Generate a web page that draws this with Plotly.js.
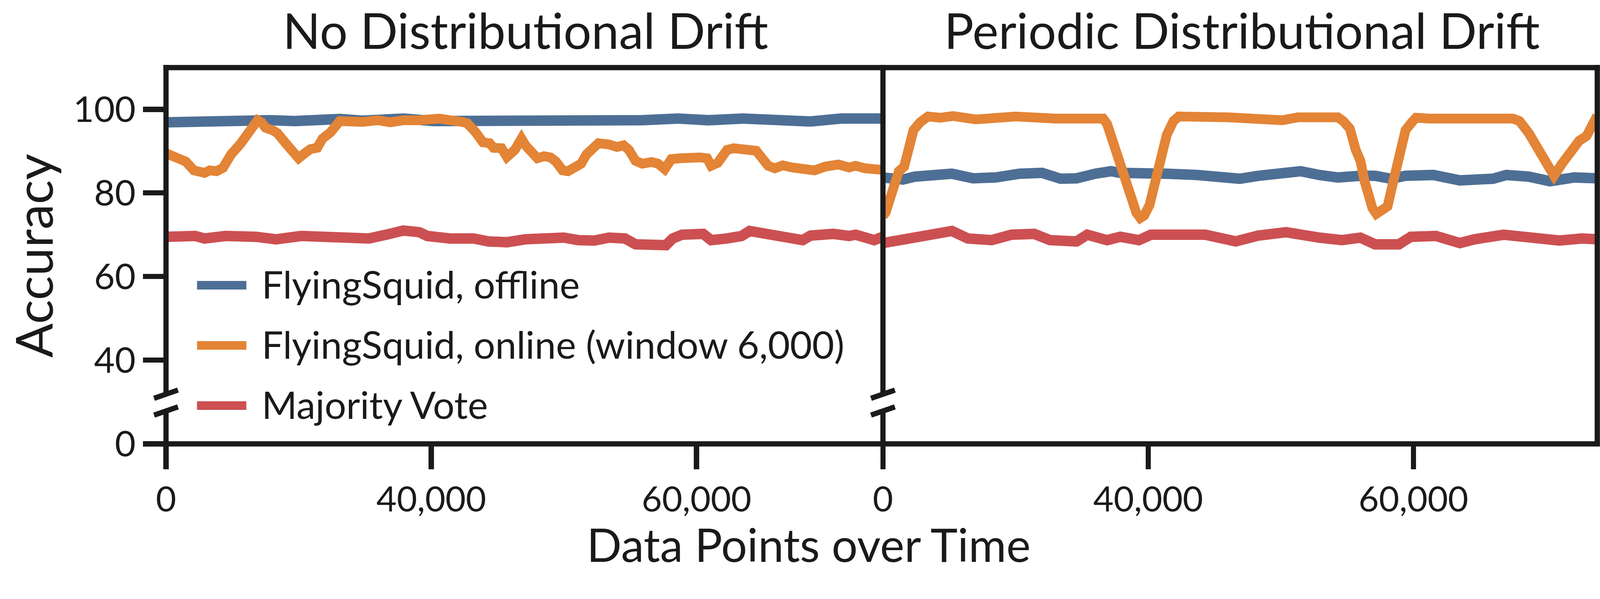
<!DOCTYPE html>
<html><head><meta charset="utf-8">
<script src="https://cdn.plot.ly/plotly-3.0.1.min.js"></script>
<style>html,body{margin:0;padding:0;background:#fff;overflow:hidden;}</style>
</head><body><div id="chart"></div>
<script>
// ---------------- DATA ----------------
const PANEL_TITLES = ["No Distributional Drift", "Periodic Distributional Drift"];
const SERIES_NAMES = ["FlyingSquid, offline", "FlyingSquid, online (window 6,000)", "Majority Vote"];
const X_TITLE = "Data Points over Time";
const Y_TITLE = "Accuracy";
const X_TICK_VALUES = [20000, 40000, 60000];
const X_TICK_LABELS = ["0", "40,000", "60,000"];
const Y_TICK_VALUES = [40, 60, 80, 100];
const Y_LOW_TICK_VALUES = [0];

// Left panel: no drift
const xLeftOffline = [20000,21600,22200,23300,25600,27900,29700,31400,33100,34800,36600,37900,40200,42500,44800,47100,49400,51700,52900,55900,58600,60900,63500,65700,67600,68600,70900,73200,74050];
const yLeftOffline = [96.9,97.0,97.6,97.4,97.8,97.4,97.2,97.5,97.7,97.3,97.6,97.8,97.2,97.15,97.3,97.4,97.6,97.5,97.1,97.4,97.8,97.4,97.8,97.4,97.0,97.1,97.8,98.0,97.8];

const xLeftOnline = [20000,20600,21200,21500,22100,22900,23300,23800,24300,24900,25600,26100,26700,26900,27200,27500,28100,28400,29100,29500,30000,30500,30900,31400,31800,32400,33100,34800,36000,36900,37900,39100,40600,42300,42700,43300,43900,44400,44700,45300,45700,46300,46800,47100,47500,47800,48000,48500,49000,49400,49900,50300,50800,51300,51700,52300,52600,53400,54000,54500,54900,55400,55900,56600,57100,57600,58100,58800,59400,60300,60800,61100,61600,62300,62800,64000,64500,64900,65400,65900,66500,67200,68000,68900,69700,70700,71500,72000,72700,73400,74050];
const yLeftOnline = [89.5,88.5,87.5,87.5,85.4,84.8,85.4,85.2,86.0,89.2,91.7,93.6,96.1,97.4,96.9,95.6,94.9,94.3,91.6,90.3,88.3,89.6,90.5,90.8,93.0,94.5,97.2,97.0,97.4,96.9,97.4,97.4,97.8,97.0,96.7,94.7,92.1,91.9,90.8,90.7,88.6,90.3,93.0,91.4,90.1,89.6,88.3,88.8,88.5,87.5,85.4,85.2,85.9,87.0,89.2,91.0,91.9,91.6,91.0,91.4,90.3,87.7,87.0,87.4,87.0,85.7,88.1,88.3,88.6,88.5,88.3,86.5,87.2,90.3,90.7,90.5,90.1,88.5,86.5,85.9,86.6,86.1,85.5,85.4,86.3,86.8,86.1,86.5,85.9,85.5,85.5];

const xLeftMajority = [20000,22200,22900,24500,26800,28300,30200,31400,33700,35300,36600,37900,39100,39700,41400,43200,44300,45700,47100,48800,50000,51100,52300,53400,54600,55400,55900,56900,57700,58200,58900,60500,61100,62300,63400,64000,65700,67500,68000,68600,70300,71500,72000,73400,74050];
const yLeftMajority = [69.5,69.7,69.1,69.7,69.5,68.9,69.7,69.5,69.3,69.1,70.0,71.0,70.6,69.7,69.1,69.1,68.4,68.2,68.9,69.5,69.3,68.7,68.6,69.3,69.1,67.7,67.7,67.5,67.5,69.1,70.0,70.2,68.7,69.1,69.7,70.9,70.0,69.5,68.7,69.8,70.2,69.7,70.0,68.7,69.5];

// Right panel: periodic drift
const xRightOffline = [20000,21500,22400,23700,25200,26800,28500,30300,32000,33400,34600,36000,37200,37900,39700,41400,43700,46900,48300,50000,51500,52900,54300,56000,57100,58300,59400,61500,63500,66000,67000,68700,70300,72100,73860];
const yRightOffline = [83.7,83.2,83.9,84.3,84.6,83.5,83.7,84.6,84.8,83.4,83.5,84.6,85.2,84.8,84.4,84.6,84.3,83.4,84.1,84.8,85.2,84.3,83.7,84.1,84.1,83.4,84.1,84.3,83.0,83.4,84.3,83.9,82.8,83.7,83.5];

const xRightOnline = [20000,20200,20600,21200,21600,21900,22300,22800,23400,24300,25300,27000,29700,30000,33000,36000,36600,36900,37300,37600,37900,38400,38750,39100,39400,39700,40100,40500,40900,41400,41900,42300,46000,49400,50100,51300,54300,54700,55200,55650,56000,56300,56700,56900,57200,57700,58050,58500,59000,59400,59900,60200,61200,63700,65500,67500,68000,68700,69200,69800,70600,71200,71900,72500,73050,73500,73860];
const yRightOnline = [74.5,75.3,79.3,85.2,86.3,89.9,95.0,96.9,98.3,98.0,98.4,97.6,97.8,98.3,97.8,98.0,97.8,96.5,92.8,89.2,86.3,81.9,77.9,75.3,74.0,74.6,77.1,83.0,88.5,93.9,97.2,98.3,98.1,97.8,97.4,98.1,98.1,97.2,95.4,90.3,87.7,83.0,77.9,76.4,75.0,75.7,76.8,83.0,89.2,95.0,97.0,98.0,97.8,98.1,97.8,97.8,97.2,94.3,91.4,88.5,84.1,87.0,89.9,92.5,93.6,96.1,98.5];

const xRightMajority = [20000,21600,23400,25200,26400,28200,29700,31400,32600,34600,35400,36900,37900,39300,40200,42500,44300,46600,48300,50400,51700,52900,54600,56000,57100,58900,59800,61700,63500,64600,66800,68700,71000,72700,73860];
const yRightMajority = [68.0,68.9,70.4,70.9,69.1,68.7,70.0,70.2,68.7,68.4,70.0,68.7,69.5,68.7,70.0,70.2,70.0,68.4,69.8,70.6,69.8,69.3,68.7,69.3,67.7,67.7,69.5,69.7,68.0,68.9,70.0,69.3,68.6,69.1,68.9];

// ---------------- STYLE / LAYOUT ----------------
const BLUE = "#4e6f95", ORANGE = "#e38436", RED = "#cc5052", INK = "#1a1a1a";
const COLORS = [BLUE, ORANGE, RED];
const WIDTHS = [28, 26, 28];
const FONT = "Lato, 'Open Sans', sans-serif";

// scale to whatever viewport we actually get (design basis 4282 x 1533)
const DW = 4282, DH = 1533;
const VW = window.innerWidth || DW, VH = window.innerHeight || DH;
const S = Math.min(VW / DW, VH / DH) || 1;
const z = v => v * S;
document.getElementById('chart').style.width = (DW * S) + 'px';
document.getElementById('chart').style.height = (DH * S) + 'px';

// plot-area geometry in design pixels
const L = 444, T = 181, R = 4275, B = 1188;
const PW = R - L, PH = B - T;
const px = p => (p - L) / PW;
const py = p => (B - p) / PH;
const MID = 2363;
const SPLIT = px(MID);
const BREAK_TOP = 1055, BREAK_BOT = 1100;

const panels = [
  {xa: 'x',  xs: [xLeftOffline, xLeftOnline, xLeftMajority],  ys: [yLeftOffline, yLeftOnline, yLeftMajority]},
  {xa: 'x2', xs: [xRightOffline, xRightOnline, xRightMajority], ys: [yRightOffline, yRightOnline, yRightMajority]}
];
const traces = [];
panels.forEach(p => {
  for (let i = 0; i < 3; i++) {
    traces.push({
      x: p.xs[i], y: p.ys[i], xaxis: p.xa, yaxis: 'y',
      type: 'scatter', mode: 'lines', name: SERIES_NAMES[i], showlegend: false,
      line: {color: COLORS[i], width: z(WIDTHS[i])}, hoverinfo: 'skip'
    });
  }
});
// empty trace so the lower (broken-off) y segment gets its own subplot
traces.push({x: [], y: [], xaxis: 'x', yaxis: 'y2', type: 'scatter', mode: 'lines', showlegend: false, hoverinfo: 'skip'});

const xTickFont = {family: FONT, size: z(94), color: INK};
const yTickFont = {family: FONT, size: z(96), color: INK};
const xCommon = {
  anchor: 'free', position: 0, tickmode: 'array', tickvals: X_TICK_VALUES, ticktext: X_TICK_LABELS,
  ticks: 'outside', ticklen: z(67), tickwidth: z(14), tickcolor: INK,
  showline: false, showgrid: false, zeroline: false, tickfont: xTickFont,
  ticklabelstandoff: z(13), automargin: false, fixedrange: true
};
const yCommon = {
  anchor: 'free', position: 0, ticks: 'outside', ticklen: z(62), tickwidth: z(14), tickcolor: INK,
  showline: false, showgrid: false, zeroline: false, tickfont: yTickFont,
  ticklabelstandoff: z(46), automargin: false, fixedrange: true, tickmode: 'array'
};

const shapes = [];
function seg(x0, y0, x1, y1, w, c) {
  shapes.push({type: 'line', xref: 'paper', yref: 'paper', x0: x0, y0: y0, x1: x1, y1: y1,
               line: {color: c || INK, width: z(w || 14)}, layer: 'above'});
}
// frame
seg(px(L - 7), 1, px(R + 7), 1);           // top
seg(px(L), 0, px(R + 7), 0);               // bottom
seg(1, 0, 1, py(T - 7));                   // right spine
[L, MID].forEach(xp => {
  seg(px(xp), py(T - 7), px(xp), py(BREAK_TOP));
  seg(px(xp), py(BREAK_BOT), px(xp), 0);
  seg(px(xp - 32), py(BREAK_TOP + 11), px(xp + 32), py(BREAK_TOP - 11));
  seg(px(xp - 32), py(BREAK_BOT + 11), px(xp + 32), py(BREAK_BOT - 11));
});
// legend swatches
const legendRows = [763.5, 924.5, 1085.5];
legendRows.forEach((yp, i) => seg(px(527), py(yp), px(659), py(yp), 23, COLORS[i]));

const annotations = [];
function ann(text, x, y, xanchor, yanchor, size, angle) {
  annotations.push({text: text, xref: 'paper', yref: 'paper', x: x, y: y,
    xanchor: xanchor, yanchor: yanchor, showarrow: false, textangle: angle || 0,
    font: {family: FONT, size: z(size), color: INK}});
}
ann(PANEL_TITLES[0], px(1406), py(161), 'center', 'bottom', 132);
ann(PANEL_TITLES[1], px(3324), py(161), 'center', 'bottom', 132);
ann(X_TITLE, px(2164), py(1532.5), 'center', 'bottom', 123);
ann(Y_TITLE, px(88), py(685), 'center', 'middle', 136, -90);
legendRows.forEach((yp, i) => ann(SERIES_NAMES[i], px(698), py(yp - 3.5), 'left', 'middle', 102));

const layout = {
  width: DW * S, height: DH * S,
  margin: {l: z(L), r: z(DW - R), t: z(T), b: z(DH - B), pad: 0},
  paper_bgcolor: '#ffffff', plot_bgcolor: '#ffffff',
  font: {family: FONT, color: INK},
  showlegend: false,
  xaxis: Object.assign({}, xCommon, {domain: [0, SPLIT], range: [20000, 74056]}),
  xaxis2: Object.assign({}, xCommon, {domain: [SPLIT, 1], range: [20000, 73860]}),
  yaxis: Object.assign({}, yCommon, {domain: [py(BREAK_TOP), 1], range: [31.83, 110], tickvals: Y_TICK_VALUES}),
  yaxis2: Object.assign({}, yCommon, {domain: [0, py(BREAK_BOT)], range: [0, 7.87], tickvals: Y_LOW_TICK_VALUES}),
  shapes: shapes,
  annotations: annotations
};

Plotly.newPlot('chart', traces, layout, {displayModeBar: false, staticPlot: true});
</script>
</body></html>
